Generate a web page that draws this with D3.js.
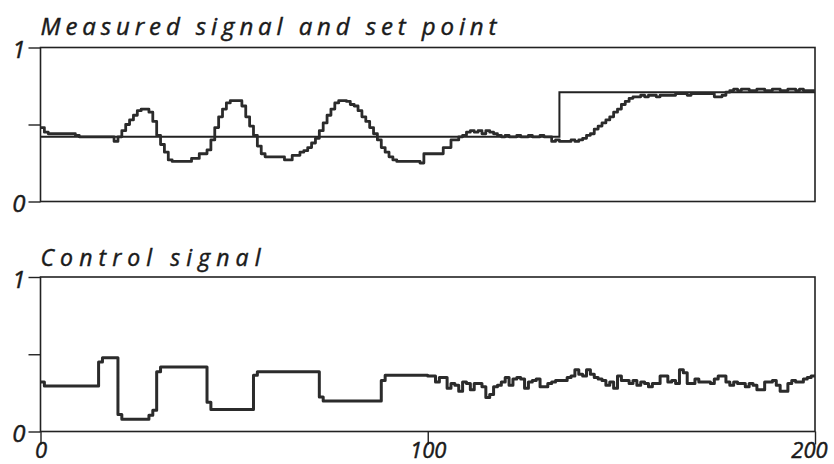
<!DOCTYPE html>
<html>
<head>
<meta charset="utf-8">
<script src="https://cdn.jsdelivr.net/npm/d3@7"></script>
<style>
  body { margin: 0; background: #fff; }
  text { font-family: "Open Sans", sans-serif; font-style: italic; fill: #1a1a1a; stroke: #1a1a1a; stroke-width: 0.45px; }
</style>
</head>
<body>
<svg id="chart" width="834" height="464"></svg>
<script>
// sample index 0..200
const measured = [
  0.48, 0.45, 0.44, 0.44, 0.44, 0.44, 0.44, 0.44, 0.44, 0.43,
  0.42, 0.42, 0.42, 0.42, 0.42, 0.42, 0.42, 0.42, 0.42, 0.39,
  0.42, 0.46, 0.50, 0.53, 0.56, 0.59, 0.60, 0.60, 0.58, 0.52,
  0.43, 0.37, 0.32, 0.27, 0.26, 0.26, 0.26, 0.26, 0.26, 0.28,
  0.28, 0.31, 0.31, 0.335, 0.40, 0.48, 0.55, 0.60, 0.64, 0.655,
  0.655, 0.655, 0.62, 0.55, 0.49, 0.43, 0.36, 0.31, 0.29, 0.29,
  0.29, 0.29, 0.29, 0.27, 0.27, 0.30, 0.30, 0.32, 0.33, 0.35,
  0.38, 0.41, 0.46, 0.51, 0.56, 0.60, 0.64, 0.655, 0.655, 0.65,
  0.63, 0.62, 0.59, 0.55, 0.52, 0.48, 0.44, 0.40, 0.35, 0.32,
  0.29, 0.27, 0.26, 0.26, 0.26, 0.26, 0.26, 0.26, 0.25, 0.31,
  0.31, 0.31, 0.31, 0.31, 0.35, 0.35, 0.40, 0.40, 0.42, 0.43,
  0.45, 0.46, 0.45, 0.46, 0.44, 0.46, 0.45, 0.44, 0.43, 0.42,
  0.43, 0.42, 0.42, 0.43, 0.42, 0.42, 0.43, 0.42, 0.42, 0.43,
  0.42, 0.42, 0.39, 0.40, 0.39, 0.39, 0.39, 0.40, 0.39, 0.40,
  0.41, 0.43, 0.44, 0.47, 0.49, 0.51, 0.53, 0.55, 0.58, 0.60,
  0.63, 0.65, 0.67, 0.68, 0.68, 0.69, 0.68, 0.69, 0.69, 0.68,
  0.69, 0.69, 0.69, 0.69, 0.70, 0.70, 0.70, 0.69, 0.70, 0.70,
  0.70, 0.70, 0.70, 0.70, 0.68, 0.68, 0.69, 0.71, 0.72, 0.73,
  0.72, 0.73, 0.73, 0.72, 0.72, 0.73, 0.73, 0.72, 0.72, 0.73,
  0.73, 0.72, 0.72, 0.73, 0.73, 0.72, 0.73, 0.72, 0.72, 0.72,
  0.72
];

const setTimes = [0, 134, 200];
const setValues = [0.42, 0.71, 0.71];

const control = [
  0.32, 0.295, 0.295, 0.295, 0.295, 0.295, 0.295, 0.295, 0.295, 0.295,
  0.295, 0.295, 0.295, 0.295, 0.295, 0.45, 0.478, 0.478, 0.478, 0.478,
  0.11, 0.08, 0.08, 0.08, 0.08, 0.08, 0.08, 0.08, 0.105, 0.138,
  0.386, 0.418, 0.418, 0.418, 0.418, 0.418, 0.418, 0.418, 0.418, 0.418,
  0.418, 0.418, 0.418, 0.19, 0.143, 0.143, 0.143, 0.143, 0.143, 0.143,
  0.143, 0.143, 0.143, 0.143, 0.143, 0.364, 0.386, 0.386, 0.386, 0.386,
  0.386, 0.386, 0.386, 0.386, 0.386, 0.386, 0.386, 0.386, 0.386, 0.386,
  0.386, 0.386, 0.224, 0.198, 0.198, 0.198, 0.198, 0.198, 0.198, 0.198,
  0.198, 0.198, 0.198, 0.198, 0.198, 0.198, 0.198, 0.198, 0.33, 0.364,
  0.364, 0.364, 0.364, 0.364, 0.364, 0.364, 0.364, 0.364, 0.364, 0.364,
  0.36, 0.36, 0.32, 0.35, 0.35, 0.28, 0.31, 0.30, 0.26, 0.32,
  0.31, 0.27, 0.31, 0.31, 0.29, 0.22, 0.24, 0.29, 0.30, 0.32,
  0.35, 0.30, 0.34, 0.35, 0.34, 0.28, 0.32, 0.33, 0.34, 0.29,
  0.29, 0.31, 0.32, 0.33, 0.33, 0.33, 0.35, 0.36, 0.40, 0.37,
  0.36, 0.40, 0.37, 0.35, 0.34, 0.33, 0.30, 0.32, 0.28, 0.36,
  0.33, 0.33, 0.31, 0.33, 0.30, 0.32, 0.31, 0.29, 0.31, 0.31,
  0.36, 0.36, 0.32, 0.33, 0.31, 0.40, 0.38, 0.31, 0.31, 0.34,
  0.32, 0.32, 0.32, 0.31, 0.34, 0.36, 0.36, 0.32, 0.30, 0.32,
  0.31, 0.31, 0.29, 0.31, 0.30, 0.27, 0.27, 0.32, 0.32, 0.33,
  0.30, 0.26, 0.26, 0.31, 0.33, 0.32, 0.32, 0.34, 0.35, 0.36,
  0.36
];

const xTicks = [0, 100, 200];
const yTicks = [0, 0.5, 1];
const titles = ['Measured signal and set point', 'Control signal'];

const svg = d3.select('#chart');
const ink = '#222';

const x = d3.scaleLinear().domain([0, 200]).range([40.5, 815]);
const yTop = d3.scaleLinear().domain([0, 1]).range([201.5, 47.5]);
const yBot = d3.scaleLinear().domain([0, 1]).range([431.5, 277]);

function panel(y, title, titleY, titleLen, fontSize) {
  const g = svg.append('g');

  g.append('rect')
    .attr('x', x(0)).attr('y', y(1))
    .attr('width', x(200) - x(0)).attr('height', y(0) - y(1))
    .attr('fill', 'none').attr('stroke', ink).attr('stroke-width', 1.6);

  const ax = g.append('g')
    .attr('transform', `translate(${x(0)},0)`)
    .call(d3.axisLeft(y).tickValues(yTicks).tickSize(12).tickPadding(3)
      .tickFormat(d => d === 0.5 ? '' : d));
  ax.select('.domain').remove();
  ax.selectAll('line').attr('stroke', ink).attr('stroke-width', 1.4);
  ax.selectAll('text').attr('font-size', 24).attr('font-family', null).attr('fill', ink)
    .attr('dy', '0.42em');

  g.append('text')
    .attr('x', x(0)).attr('y', titleY)
    .attr('font-size', fontSize)
    .attr('textLength', titleLen).attr('lengthAdjust', 'spacing')
    .text(title);
  return g;
}

const topPanel = panel(yTop, titles[0], 35, 456, 24);
const botPanel = panel(yBot, titles[1], 266, 220, 23);

const stepLine = (y) => d3.line()
  .x((d, i) => x(i))
  .y(d => y(d))
  .curve(d3.curveStepAfter);

topPanel.append('path')
  .datum(setValues)
  .attr('fill', 'none').attr('stroke', ink).attr('stroke-width', 2)
  .attr('d', d3.line().x((d, i) => x(setTimes[i])).y(d => yTop(d)).curve(d3.curveStepAfter));

topPanel.append('path')
  .datum(measured)
  .attr('fill', 'none').attr('stroke', '#2b2b2b').attr('stroke-width', 2.8)
  .attr('stroke-linejoin', 'round')
  .attr('d', stepLine(yTop));

botPanel.append('path')
  .datum(control)
  .attr('fill', 'none').attr('stroke', '#2b2b2b').attr('stroke-width', 3)
  .attr('stroke-linejoin', 'round')
  .attr('d', stepLine(yBot));

const xa = botPanel.append('g')
  .attr('transform', `translate(0,${yBot(0)})`)
  .call(d3.axisBottom(x).tickValues(xTicks).tickSize(13).tickPadding(0));
xa.select('.domain').remove();
xa.selectAll('line').attr('stroke', ink).attr('stroke-width', 1.4);
xa.selectAll('text').attr('font-size', 22).attr('font-family', null).attr('fill', ink)
  .attr('dy', '0.62em');
xa.selectAll('.tick:last-of-type text').attr('dx', -6);
</script>
</body>
</html>
